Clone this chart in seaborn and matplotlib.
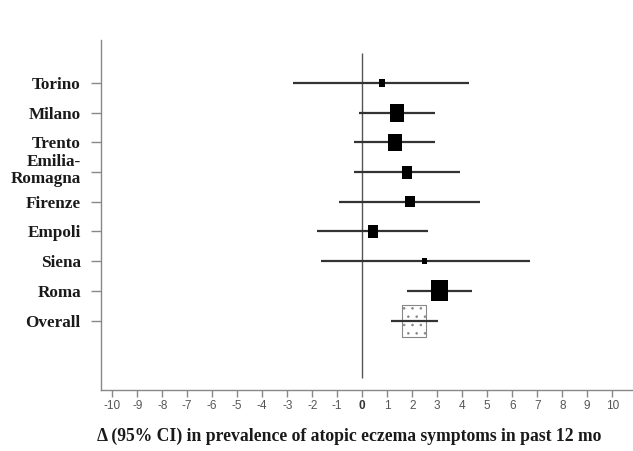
import matplotlib
matplotlib.use("Agg")
import matplotlib.pyplot as plt
import matplotlib.transforms as mtransforms
import seaborn as sns
import numpy as np
import pandas as pd

# ---- data ----
sites = ["Torino", "Milano", "Trento", "Emilia-\nRomagna", "Firenze",
         "Empoli", "Siena", "Roma"]
estimate = [0.79, 1.39, 1.31, 1.79, 1.91, 0.43, 2.50, 3.08]
ci_low = [-2.77, -0.13, -0.33, -0.33, -0.93, -1.81, -1.65, 1.79]
ci_high = [4.27, 2.90, 2.90, 3.90, 4.70, 2.62, 6.70, 4.39]
weight = [8, 18, 17, 13, 11, 13, 6, 21]   # relative study weight (box size)

overall_label = "Overall"
overall_est = 2.07
overall_low = 1.17
overall_high = 3.02

xticks = list(range(-10, 11))
xlabel = "\u0394 (95% CI) in prevalence of atopic eczema symptoms in past 12 mo"

# ---- build table ----
df = pd.DataFrame({"site": sites, "est": estimate, "lo": ci_low,
                   "hi": ci_high, "w": weight})
df["row"] = np.arange(len(df))
overall_row = len(df)

sns.set_style("ticks")
plt.rcParams["font.family"] = ["Liberation Serif", "DejaVu Serif"]
plt.rcParams["hatch.linewidth"] = 0.6

fig = plt.figure(figsize=(6.33, 4.51), dpi=100)
ax = fig.add_axes([101 / 633, 61 / 451, 532 / 633, 350 / 451])

# reference line at zero
ax.vlines(0, -1.0, 9.93, color="#555555", linewidth=1.0, zorder=1)

# confidence intervals
ax.hlines(df["row"], df["lo"], df["hi"], color="#333333", linewidth=1.6, zorder=2)
ax.hlines(overall_row, overall_low, overall_high, color="#333333",
          linewidth=1.6, zorder=4)

# study boxes (slightly taller than wide)
box = [(-1, -1.2), (1, -1.2), (1, 1.2), (-1, 1.2), (-1, -1.2)]
sizes = (np.array(df["w"]) / 1.389) ** 2
sns.scatterplot(x=df["est"], y=df["row"], marker=box, s=sizes, color="black",
                edgecolor="black", linewidth=0, legend=False, ax=ax, zorder=3)

# overall box, dotted fill
obox = [(-1, -1.39), (1, -1.39), (1, 1.39), (-1, 1.39), (-1, -1.39)]
ax.scatter([overall_est], [overall_row], marker=obox, s=(32 / 1.389) ** 2,
           facecolor="white", edgecolor="#888888", linewidth=0.8,
           hatch="..", zorder=3)

ax.set_xlim(-10.45, 10.83)
ax.set_ylim(10.34, -1.45)

ax.set_xticks(xticks)
ax.set_xticklabels([str(t) for t in xticks], fontsize=8.5,
                   family=["Liberation Sans", "DejaVu Sans"], color="#555555")
for lab in ax.get_xticklabels():
    if lab.get_text() == "0":
        lab.set_fontweight("bold")
        lab.set_color("#333333")

ax.tick_params(axis="y", length=7, width=1, color="#888888", pad=7.5)
ax.tick_params(axis="x", length=5, width=1, color="#888888", pad=2)

ax.set_yticks(list(df["row"]) + [overall_row])
ax.set_yticklabels(sites + [overall_label], fontsize=12.3, fontweight="bold",
                   color="#1a1a1a", multialignment="right", linespacing=1.05)
shift = mtransforms.ScaledTranslation(0, 4 / 100, fig.dpi_scale_trans)
for tick in ax.yaxis.get_major_ticks():
    if "\n" in tick.label1.get_text():
        tick.label1.set_transform(tick.label1.get_transform() + shift)

sns.despine(ax=ax)
for s in ["left", "bottom"]:
    ax.spines[s].set_color("#888888")
    ax.spines[s].set_linewidth(1.0)

ax.set_ylabel("")
ax.set_xlabel(xlabel, fontsize=12.7, fontweight="bold", color="#1a1a1a")
ax.xaxis.set_label_coords((349 - 101) / 532, -(436 - 390) / 350, transform=ax.transAxes)
ax.xaxis.label.set_va("center")

fig.savefig("out.png", dpi=100, facecolor="white")
